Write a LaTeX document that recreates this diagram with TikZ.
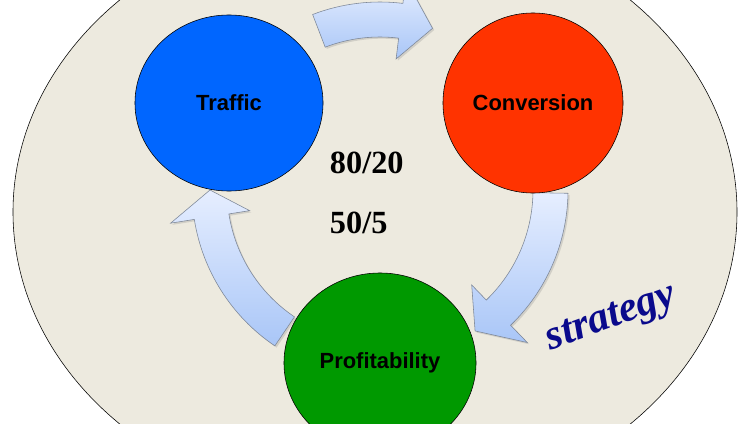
\documentclass[tikz,border=0pt]{standalone}
\usepackage{fontspec}
\setmainfont{Liberation Serif}
\setsansfont{Liberation Sans}
\newfontfamily\handfont{Liberation Serif}
\usetikzlibrary{positioning, calc, shapes.geometric, shadows}
\definecolor{bgbeige}{HTML}{EDEADF}
\definecolor{cblue}{HTML}{0066FF}
\definecolor{cred}{HTML}{FF3300}
\definecolor{cgreen}{HTML}{009900}
\definecolor{arrtop}{HTML}{E6EEFF}
\definecolor{arrbot}{HTML}{A9C6F7}
\definecolor{arredge}{HTML}{7D8797}
\definecolor{inkblue}{HTML}{0A0A8C}

% curved block arrow round the hub: tail angle, head base angle, tip angle
\newcommand{\loopArrow}[3]{%
  \path[looparrow] ($(hub)+(#1:188)$) arc[start angle=#1, end angle=#2, radius=188]
    -- ($(hub)+(#2:212)$) -- ($(hub)+(#3:170)$) -- ($(hub)+(#2:132)$)
    -- ($(hub)+(#2:153)$) arc[start angle=#2, end angle=#1, radius=153] -- cycle;
}

\begin{document}
\begin{tikzpicture}[
    x=0.025cm, y=0.025cm,
    stage/.style={ellipse, draw=black, thin, inner sep=0pt, fill=#1, font=\sffamily\bfseries\fontsize{15.6}{18}\selectfont},
    looparrow/.style={draw=arredge, thin, top color=arrtop, bottom color=arrbot, drop shadow={opacity=0.25, shadow xshift=1.2pt, shadow yshift=-1.2pt}},
    ratio/.style={anchor=west, font=\rmfamily\bfseries\fontsize{23}{26}\selectfont},
]
\useasboundingbox (0,0) rectangle (740,423);
\clip (0,0) rectangle (740,423);

% Background
\fill[bgbeige, draw=black, thin] (375,211) ellipse[x radius=362, y radius=299];

% Arrows
\coordinate (hub) at (380,233);
\loopArrow{111}{83}{72}
\loopArrow{-1}{-46}{-56}
\loopArrow{236}{189}{180}

% Stages
\node[stage=cblue, minimum width=4.7cm, minimum height=4.4cm] (traffic) at (229,320) {Traffic};
\node[stage=cred, minimum width=4.5cm, minimum height=4.5cm] (conversion) at (533,320) {Conversion};
\node[stage=cgreen, minimum width=4.8cm, minimum height=4.5cm] (profit) at (380,60) {Profitability};

% Ratios
\node[ratio] (ratioa) at (325,260) {80/20};
\node[ratio] (ratiob) at (325,200) {50/5};

% Note
\node[rotate=20, text=inkblue, font=\handfont\bfseries\itshape\fontsize{30}{32}\selectfont] (strategy) at (612,103) {strategy};

\end{tikzpicture}
\end{document}
